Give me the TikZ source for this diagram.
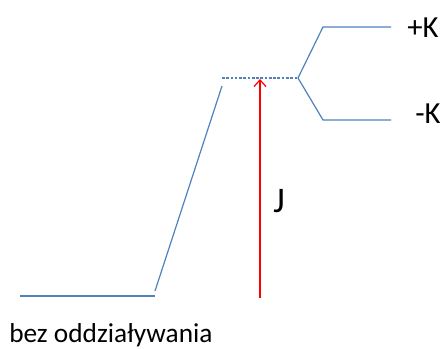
\documentclass[tikz,border=0pt]{standalone}
\usepackage{fontspec}
\setmainfont{Carlito}
\usetikzlibrary{arrows.meta, positioning}
\definecolor{levelblue}{RGB}{79,129,189}

\begin{document}
\begin{tikzpicture}[x=0.75pt, y=-0.75pt, level/.style={draw=levelblue, line width=0.9pt}, every node/.style={font=\fontsize{20.5}{25}\selectfont, inner sep=0pt}]
    \useasboundingbox (0,0) rectangle (446,349);
    % energy levels
    \coordinate (free0) at (20,296);
    \coordinate (free1) at (155,296);
    \coordinate (slant0) at (155,291);
    \coordinate (slant1) at (222,86);
    \coordinate (mid0) at (222,78);
    \coordinate (mid1) at (298,78);
    \coordinate (up0) at (323,27);
    \coordinate (up1) at (391,27);
    \coordinate (low0) at (323,120);
    \coordinate (low1) at (391,120);
    \coordinate (jbase) at (260,298);
    \coordinate (jtop) at (260,79);

    \draw[level] (free0) -- (free1);
    \draw[level] (slant0) -- (slant1);
    \draw[level, dash pattern=on 2pt off 1.2pt] (mid0) -- (mid1);
    \draw[level] (mid1) -- (up0) -- (up1);
    \draw[level] (mid1) -- (low0) -- (low1);
    \draw[-{Straight Barb[length=5pt, width=9pt]}, red, line width=0.9pt] (jbase) -- (jtop);

    \node[font=\fontsize{23}{27}\selectfont] (plusK) at (423,28) {+K};
    \node[font=\fontsize{23}{27}\selectfont] (minusK) at (428,114) {-K};
    \node[font=\fontsize{27}{31}\selectfont] (J) at (279,201) {J};
    \node[anchor=west] (bez) at (9,335) {bez oddziaływania};
\end{tikzpicture}
\end{document}
